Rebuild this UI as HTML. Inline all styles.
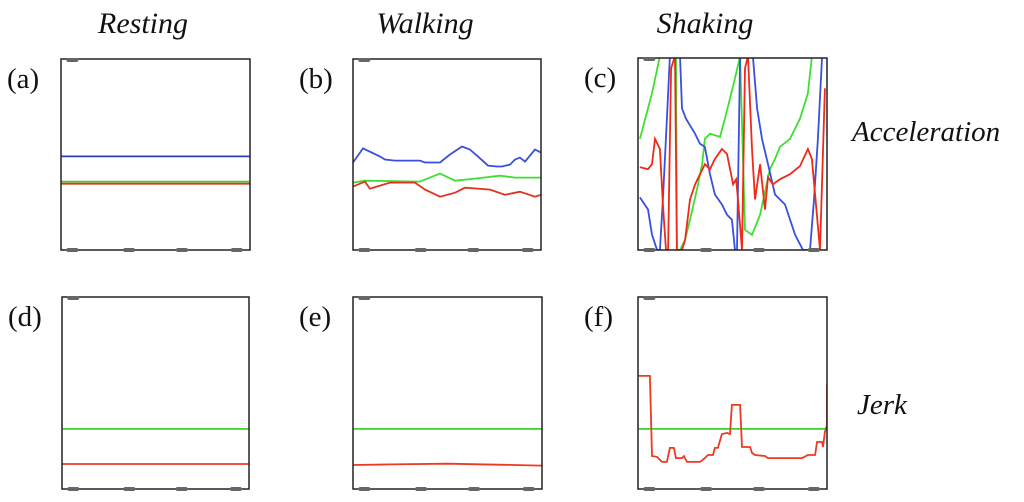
<!DOCTYPE html>
<html><head><meta charset="utf-8"><style>
body{margin:0;width:1024px;height:502px;background:#fff;overflow:hidden}
svg{display:block}
text{font-family:"Liberation Serif",serif;fill:#111}
</style></head><body>
<svg id="fig" width="1024" height="502"></svg>
<script>
// ---- data (time 0..100, value 0..100 of panel range) ----
const aBlueT=[0,100], aBlueV=[49,49];
const aGreenT=[0,100], aGreenV=[35.8,35.8];
const aRedT=[0,100], aRedV=[34.7,34.7];

const bBlueT=[0,5.3,14.4,17,22.3,35.6,38.3,46.3,51.6,58,62.2,66.5,71.8,76.6,79.3,83.5,86.2,88.8,91.5,96.8,100];
const bBlueV=[45.8,53.2,48.9,47.4,46.8,46.8,45.8,45.8,50,54.2,52.6,48.9,44.2,43.7,43.7,44.7,47.4,48.4,46.3,52.6,51];
const bGreenT=[0,6.4,35.6,46.3,54.3,64.9,78.2,86.2,100];
const bGreenV=[35.3,36.3,35.8,40,36.3,37.4,38.9,37.9,37.9];
const bRedT=[0,6.4,9,14.4,19.7,33,38.3,46.3,54.3,59.6,72.9,80.9,88.8,96.8,100];
const bRedV=[33.2,35.8,32.1,33.7,35.3,35.3,31.6,27.9,30,32.6,31.6,28.9,30.5,27.9,28.9];

const cGreenT=[1,7.4,11.6,20.1,20.6,22.2,24.9,27.5,31.2,33.9,35.4,38.1,43.4,46,48.7,51.3,54,56.6,60.3,64.6,69.8,72.5,75.1,80.4,85.7,89.9,92,97.4,100];
const cGreenV=[57.9,81.6,101,101,0,0,5.3,15.8,31.6,44.7,57.9,60.5,58.9,68.4,78.9,89.5,101,10.5,7.9,18.4,42.1,47.4,53.7,57.9,68.4,81.6,101,101,101];
const cBlueT=[1,5.3,7.4,10.1,11.6,13.2,15.3,16.9,22.2,23.3,25.4,30.2,32.8,35.4,38.1,40.7,44.4,47.1,49.7,51.3,52.4,54,60.8,63,65.6,68.8,72.5,77.8,83.1,87.3,91,93.1,95.2,97.4,100];
const cBlueV=[27.4,21.1,7.9,0,0,26.3,68.4,101,101,73.7,68.4,60.5,55.3,53.7,39.5,28.9,23.7,18.4,15.8,0,0,101,101,73.7,57.9,44.7,28.9,23.7,7.9,0,0,26.3,57.9,101,101];
const cRedT=[1,5.3,7.4,9,11.6,13.2,14.8,15.9,17.5,19.6,20.6,23.3,24.9,27.5,30.2,32.8,35.4,38.1,40.7,44.4,47.1,50.3,51.9,52.9,55,56.6,58.2,60.3,61.9,64.6,67.2,68.8,71.4,75.1,80.4,85.7,89.9,92,93.7,96.3,98.9];
const cRedV=[43.2,42.1,44.7,57.9,52.6,23.7,0,0,94.7,101,0,0,5.3,26.3,34.2,39.5,44.7,42.1,47.4,52.6,50,34.2,36.8,26.3,0,94.7,101,52.6,26.3,44.7,21.1,37.9,34.2,36.8,39.5,43.7,52.6,47.4,28.9,0,84.2];

const dGreenT=[0,100], dGreenV=[31.3,31.3];
const dRedT=[0,100], dRedV=[13,13];
const eGreenT=[0,100], eGreenV=[31.3,31.3];
const eRedT=[0,20,50,80,100], eRedV=[12.5,12.8,13.2,12.6,12.2];
const fGreenT=[0,100], fGreenV=[31.3,31.3];
const fRedT=[0,6.3,7.4,10.1,12.7,15.3,16.9,19,20.1,23.3,24.3,25.9,32.8,35.4,37,39.7,40.7,42.3,44.4,47.1,48.7,49.7,54,55,59.3,60.3,61.9,67.2,68.8,86.8,89.9,93.7,94.7,97.4,97.9,98.9,100,100];
const fRedV=[58.9,58.9,17.2,16.7,14.1,14.1,21.4,21.4,16.1,16.1,17.2,14.1,14.1,16.1,17.7,17.7,21.4,21.4,28.6,29.2,28.6,43.8,43.8,21.9,21.9,18.8,17.7,17.2,16.1,16.1,17.7,17.7,24.5,24.5,21.9,29.7,33.3,54.2];

const tickT=[6,36,64,93];
const panelLabels=["(a)","(b)","(c)","(d)","(e)","(f)"];
const colTitles=["Resting","Walking","Shaking"];
const rowTitles=["Acceleration","Jerk"];
// ---------------------------------------------------------
const NS="http://www.w3.org/2000/svg";
const svg=document.getElementById('fig');
function mk(tag,attrs,parent){const e=document.createElementNS(NS,tag);for(const k in attrs)e.setAttribute(k,attrs[k]);(parent||svg).appendChild(e);return e;}
const boxes=[[61,59,189,191],[353,59,188,191],[638,58,189,192],[62,297,187,192],[353,297,189,192],[638,297,189,192]];
const series=[
 [[aBlueT,aBlueV,'#2b3fb8'],[aGreenT,aGreenV,'#3fcf2f'],[aRedT,aRedV,'#e0331f']],
 [[bBlueT,bBlueV,'#3a4fe0'],[bGreenT,bGreenV,'#3fdf2f'],[bRedT,bRedV,'#e0331f']],
 [[cGreenT,cGreenV,'#3fdf2f'],[cBlueT,cBlueV,'#3a4fe0'],[cRedT,cRedV,'#ee2a1a']],
 [[dGreenT,dGreenV,'#3fcf2f'],[dRedT,dRedV,'#ee3a22']],
 [[eGreenT,eGreenV,'#3fcf2f'],[eRedT,eRedV,'#ee3a22']],
 [[fGreenT,fGreenV,'#3fcf2f'],[fRedT,fRedV,'#ee3a22']]
];
const names=['a','b','c','d','e','f'];
boxes.forEach((b,i)=>{
  const [x0,y0,w,h]=b;
  const g=mk('g',{});
  
  
  const cp=mk('clipPath',{id:'cp'+i},g);
  mk('rect',{x:x0,y:y0,width:w,height:h},cp);
  const xs=t=>x0+t/100*w, ys=v=>y0+h-v/100*h;
  series[i].forEach((s,j)=>{
    const d=s[0].map((t,k)=>(k?'L':'M')+xs(t).toFixed(1)+','+ys(s[1][k]).toFixed(1)).join('');
    const p=mk('path',{d:d,fill:'none',stroke:s[2],'stroke-width':1.8,'clip-path':'url(#cp'+i+')'},g);
    
    
  });
  const fr=mk('rect',{x:x0,y:y0,width:w,height:h,fill:'none',stroke:'#222','stroke-width':1.5},g);
  
  
  tickT.forEach(t=>{
    const tk=mk('rect',{x:xs(t)-6,y:y0+h-2,width:12,height:4,rx:2,fill:'#666'},g);
    
    
  });
  const tt=mk('rect',{x:xs(tickT[0])-6,y:y0-1,width:12,height:4,rx:2,fill:'#666'},g);
  
  
  const lb=mk('text',{x:x0-54,y:y0+29,'font-size':29},g);
  lb.textContent=panelLabels[i];
  
  
});
const colX=[143,425,705];
colTitles.forEach((c,i)=>{
  const t=mk('text',{x:colX[i],y:33,'font-size':30,'font-style':'italic','text-anchor':'middle'});
  t.textContent=c;
  
  
});
const rowY=[141,414], rowX=[852,857];
rowTitles.forEach((r,i)=>{
  const t=mk('text',{x:rowX[i],y:rowY[i],'font-size':29,'font-style':'italic'});
  t.textContent=r;
  
  
});
</script>
</body></html>
